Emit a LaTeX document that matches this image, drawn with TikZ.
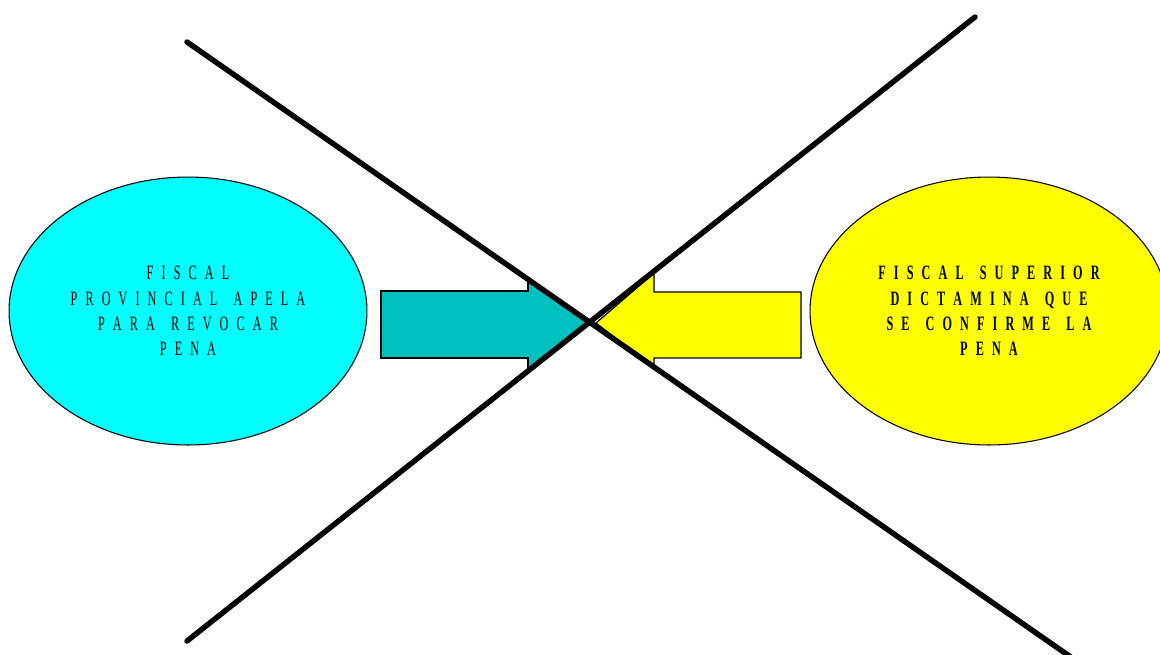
\documentclass[tikz,border=0pt]{standalone}
\usepackage{fontspec}
\setmainfont{Liberation Serif}
\newfontfamily\narrowserif[FakeStretch=0.6]{Liberation Serif}
\usetikzlibrary{shapes.geometric, positioning}
\definecolor{fiscalcyan}{RGB}{0,255,255}
\definecolor{arrowteal}{RGB}{0,192,192}
\definecolor{fiscalyellow}{RGB}{255,255,0}
\newcommand{\spacedtext}{\narrowserif\fontsize{11.6}{14.5}\selectfont\spaceskip=4.6pt plus 0.5pt\relax}

\begin{document}
\begin{tikzpicture}[x=0.02cm, y=-0.02cm,
    oval/.style={draw, ellipse, line width=0.6pt, minimum width=7.16cm, minimum height=5.36cm,
      align=center, font=\spacedtext},
    blockarrow/.style={draw, line width=0.9pt, line join=miter},
    crossline/.style={line width=3.1pt, line cap=round}]
    \useasboundingbox (0,0) rectangle (1160,654);
    \clip (0,0) rectangle (1160,654);
    % the two positions
    \node[oval, fill=fiscalcyan] (prov) at (188,311)
      {F I S C A L\\P R O V I N C I A L~ A P E L A\\P A R A~ R E V O C A R\\P E N A};
    \node[oval, fill=fiscalyellow, font=\spacedtext\bfseries] (sup) at (989,311)
      {F I S C A L~ S U P E R I O R\\D I C T A M I N A~ Q U E\\S E~ C O N F I R M E~ L A\\P E N A};
    % block arrows meeting in the middle
    \coordinate (tipl) at (590,323);
    \coordinate (tipr) at (596,323);
    \fill[arrowteal] (381,291) -- (528,291) -- (528,280) -- (tipl) -- (528,369) -- (528,358) -- (381,358) -- cycle;
    \draw[blockarrow] (381,291) -- (528,291) -- (528,280) -- (tipl) -- (528,369) -- (528,358) -- (381,358) -- cycle;
    \fill[fiscalyellow] (801,292) -- (654,292) -- (654,273) -- (tipr) -- (654,368) -- (654,358) -- (801,358) -- cycle;
    \draw[blockarrow, line width=0.7pt] (801,292) -- (654,292) -- (654,273) -- (tipr) -- (654,368) -- (654,358) -- (801,358) -- cycle;
    % the cross
    \coordinate (a1) at (187,42);
    \coordinate (a2) at (1075,660);
    \coordinate (b1) at (975,17);
    \coordinate (b2) at (187,641);
    \draw[crossline] (a1) -- (a2);
    \draw[crossline] (b1) -- (b2);
\end{tikzpicture}
\end{document}
